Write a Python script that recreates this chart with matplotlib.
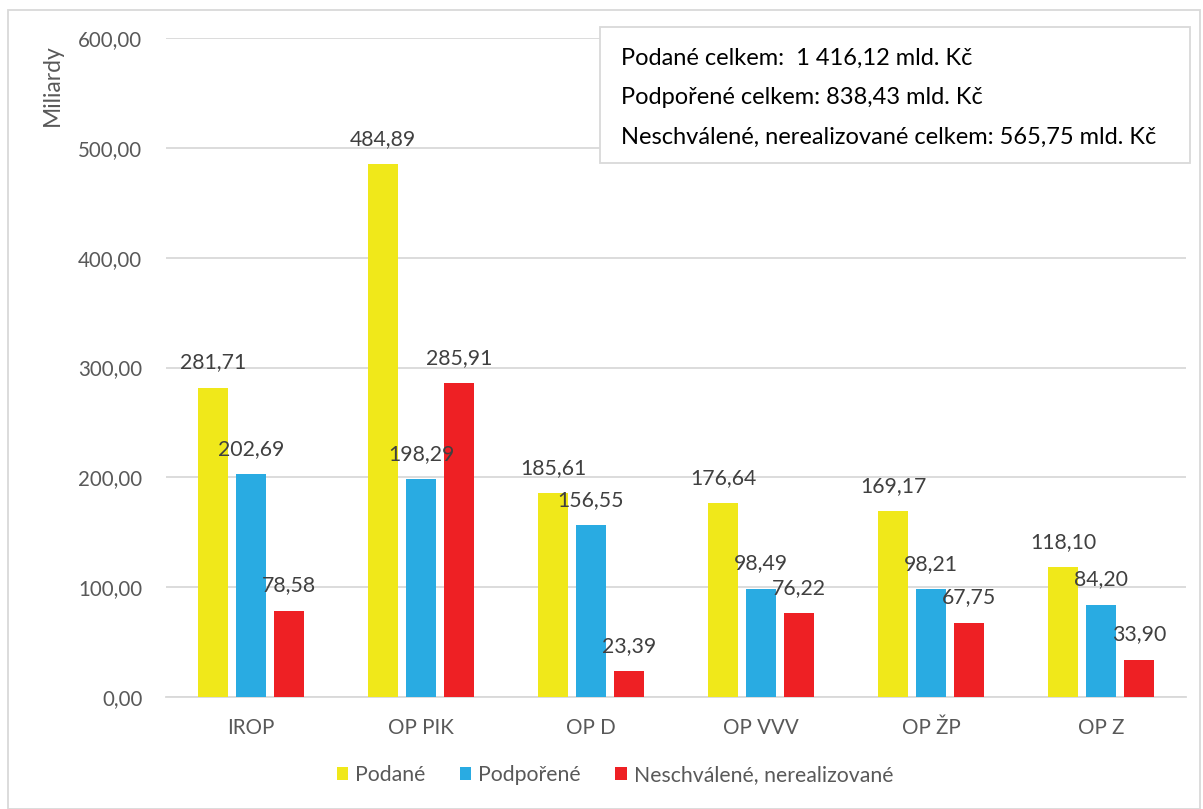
import matplotlib.pyplot as plt
import numpy as np
from matplotlib.patches import Rectangle

categories = ["IROP", "OP PIK", "OP D", "OP VVV", "OP ŽP", "OP Z"]
podane = [281.71, 484.89, 185.61, 176.64, 169.17, 118.10]
podporene = [202.69, 198.29, 156.55, 98.49, 98.21, 84.20]
neschvalene = [78.58, 285.91, 23.39, 76.22, 67.75, 33.90]
series_names = ["Podané", "Podpořené", "Neschválené, nerealizované"]
colors = ["#F0E81A", "#29ABE2", "#EE2024"]
box_lines = ["Podané celkem:  1 416,12 mld. Kč",
             "Podpořené celkem: 838,43 mld. Kč",
             "Neschválené, nerealizované celkem: 565,75 mld. Kč"]
yticks = [0, 100, 200, 300, 400, 500, 600]

plt.rcParams['font.family'] = ['Lato', 'DejaVu Sans']

W, H = 1203, 809
fig = plt.figure(figsize=(W / 100, H / 100), dpi=100)
ax = fig.add_axes([166 / W, 1 - 697 / H, 1020 / W, (697 - 38) / H])

x = np.arange(len(categories))
bw = 30 / 170
off = 38 / 170
series = [podane, podporene, neschvalene]
for i, (vals, c, name) in enumerate(zip(series, colors, series_names)):
    pos = x + (i - 1) * off
    ax.bar(pos, vals, width=bw, color=c, label=name, zorder=3)
    for p, v in zip(pos, vals):
        ax.annotate(f"{v:.2f}".replace(".", ","), (p, v), xytext=(0, 11),
                    textcoords="offset points", ha="center", va="bottom",
                    fontsize=15.3, color="#404040", zorder=4)

ax.set_xlim(-0.5, len(categories) - 0.5)
ax.set_ylim(0, 600)
ax.set_yticks(yticks)
ax.set_yticklabels([f"{t:.2f}".replace(".", ",") for t in yticks])
ax.set_xticks(x)
ax.set_xticklabels(categories)
ax.tick_params(axis='both', length=0, labelsize=14.8, colors="#595959")
ax.tick_params(axis='y', pad=17)
ax.tick_params(axis='x', pad=15)
ax.grid(axis='y', color="#D9D9D9", linewidth=1.3, zorder=0)
for s in ["top", "right", "left"]:
    ax.spines[s].set_visible(False)
ax.spines["bottom"].set_color("#D9D9D9")
ax.spines["bottom"].set_linewidth(1.3)

fig.text(52 / W, 1 - 85 / H, "Miliardy", rotation=90, ha="center", va="center",
         fontsize=16.5, color="#595959")

leg = fig.legend(loc="center", bbox_to_anchor=(615 / W, 1 - 775 / H), ncol=3,
                 frameon=False, fontsize=15.3, handlelength=0.55, handleheight=0.55,
                 handletextpad=0.33, columnspacing=1.6)
for t in leg.get_texts():
    t.set_color("#595959")

# outer frame
fig.patches.append(Rectangle((8 / W, 0), (1200 - 8) / W, 1 - 10 / H, transform=fig.transFigure,
                             fill=False, edgecolor="#D9D9D9", linewidth=1.3))
# text box
fig.patches.append(Rectangle((600 / W, 1 - 163 / H), 590 / W, 136 / H, transform=fig.transFigure,
                             facecolor="white", edgecolor="#D9D9D9", linewidth=1.3, zorder=5))
for i, line in enumerate(box_lines):
    fig.text(621 / W, 1 - (58 + i * 39.5) / H, line, ha="left", va="center",
             fontsize=17, color="black", zorder=6)

fig.savefig("out.png", dpi=100)
